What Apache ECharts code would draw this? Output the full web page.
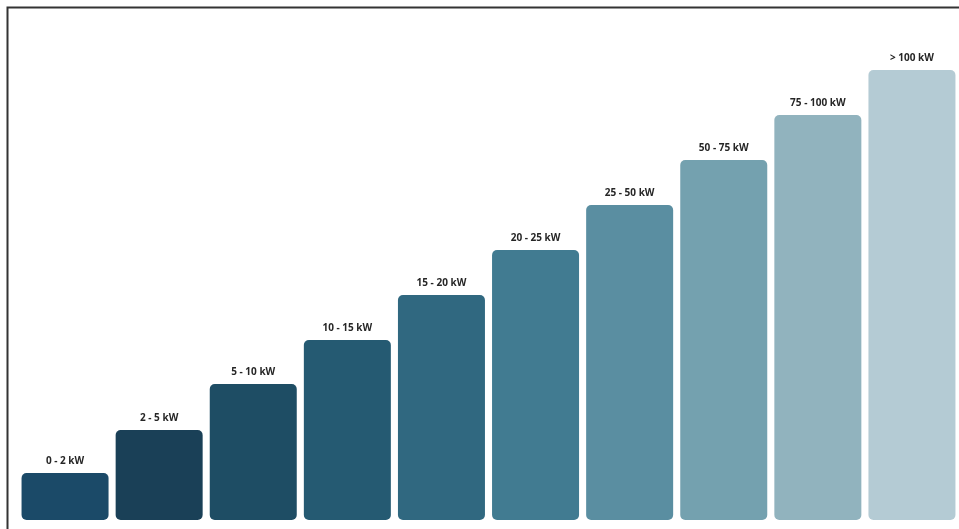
<!DOCTYPE html>
<html>
<head>
<meta charset="utf-8">
<script src="https://cdn.jsdelivr.net/npm/echarts@6/dist/echarts.min.js"></script>
<style>
html, body { margin: 0; padding: 0; background: #fff; }
#chart { width: 959px; height: 529px; }
</style>
</head>
<body>
<div id="chart"></div>
<script>
// categories (power ranges) and relative bar heights
var categories = ['0 - 2 kW', '2 - 5 kW', '5 - 10 kW', '10 - 15 kW', '15 - 20 kW',
                  '20 - 25 kW', '25 - 50 kW', '50 - 75 kW', '75 - 100 kW', '> 100 kW'];
var heights = [47, 90, 136, 180, 225, 270, 315, 360, 405, 450];
var barColors = ['#1b4a68', '#1a4057', '#1e4d64', '#255a72', '#306880',
                 '#417b91', '#5a8ea1', '#74a1af', '#91b3be', '#b4cbd4'];

var chart = echarts.init(document.getElementById('chart'));

var data = [];
for (var i = 0; i < heights.length; i++) {
    data.push({
        value: heights[i],
        itemStyle: { color: barColors[i] }
    });
}

var option = {
    backgroundColor: '#ffffff',
    animation: false,
    grid: {
        left: 18,
        right: -1,
        top: 70,
        bottom: 9
    },
    xAxis: {
        type: 'category',
        data: categories,
        axisLine: { show: false },
        axisTick: { show: false },
        axisLabel: { show: false }
    },
    yAxis: {
        type: 'value',
        min: 0,
        max: 450,
        show: false,
        splitLine: { show: false }
    },
    series: [{
        type: 'bar',
        data: data,
        barWidth: 87,
        itemStyle: { borderRadius: 5 },
        label: {
            show: true,
            position: 'top',
            distance: 7,
            formatter: function (p) { return p.name; },
            color: '#262626',
            fontFamily: '"Open Sans", sans-serif',
            fontWeight: 'bold',
            fontSize: 10
        }
    }],
    graphic: [{
        type: 'polyline',
        shape: { points: [[7.5, 529], [7.5, 7.5], [959, 7.5]] },
        style: { stroke: '#333', lineWidth: 2, fill: null }
    }]
};

chart.setOption(option);
</script>
</body>
</html>
